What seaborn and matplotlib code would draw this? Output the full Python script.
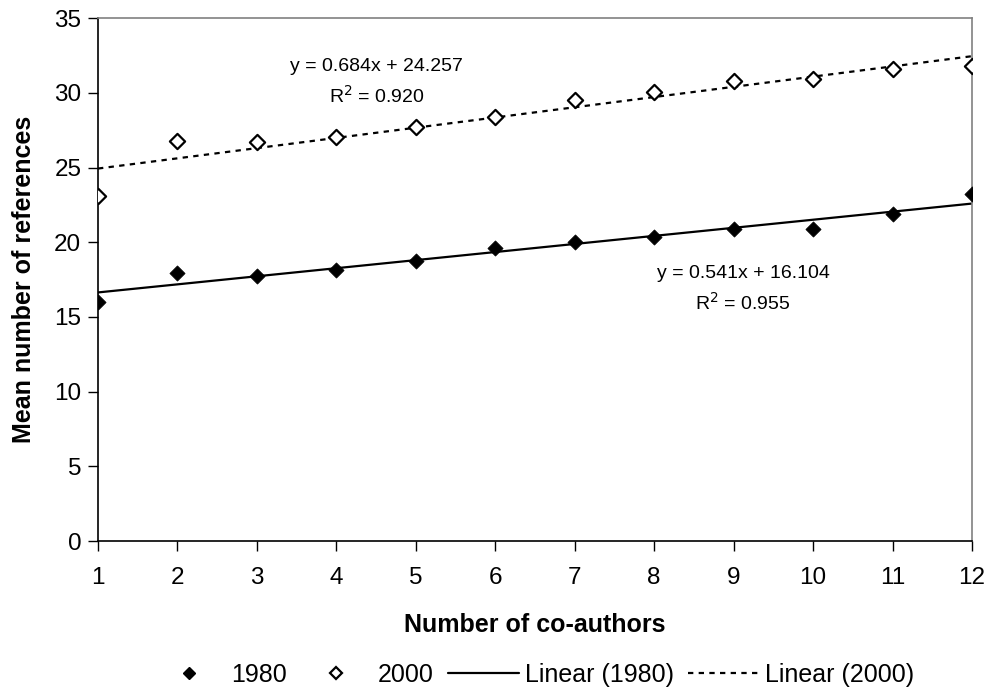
import numpy as np
import pandas as pd
import matplotlib
matplotlib.use("Agg")
import matplotlib.pyplot as plt
import seaborn as sns
from matplotlib.lines import Line2D

# =====================================================
# DATA
# =====================================================

co_authors = [1, 2, 3, 4, 5, 6, 7, 8, 9, 10, 11, 12]
refs_1980 = [16.0, 17.97, 17.77, 18.13, 18.75, 19.65, 20.05, 20.38, 20.87, 20.92, 21.88, 23.22]
refs_2000 = [23.1, 26.8, 26.7, 27.08, 27.7, 28.4, 29.5, 30.07, 30.83, 30.92, 31.6, 31.84]

# trend line coefficients printed on the chart
slope_1980, intercept_1980, r2_1980 = 0.541, 16.104, 0.955
slope_2000, intercept_2000, r2_2000 = 0.684, 24.257, 0.920

y_ticks = [0, 5, 10, 15, 20, 25, 30, 35]

df = pd.DataFrame({
    "co_authors": co_authors,
    "1980": refs_1980,
    "2000": refs_2000,
})
df["fit_1980"] = slope_1980 * df["co_authors"] + intercept_1980
df["fit_2000"] = slope_2000 * df["co_authors"] + intercept_2000

# =====================================================
# STYLE
# =====================================================

sns.set_style("white")
plt.rcParams["font.family"] = ["Liberation Sans", "DejaVu Sans"]
plt.rcParams["text.color"] = "black"
plt.rcParams["axes.labelcolor"] = "black"
plt.rcParams["xtick.color"] = "black"
plt.rcParams["ytick.color"] = "black"

fig = plt.figure(figsize=(9.87, 6.89), dpi=100)
ax = fig.add_axes([0.0993, 0.2148, 0.8855, 0.7586])

dots = (0, (2.4, 2.4))

# =====================================================
# TREND LINES
# =====================================================

sns.lineplot(data=df, x="co_authors", y="fit_1980", ax=ax,
             color="black", linewidth=1.6, zorder=2)
sns.lineplot(data=df, x="co_authors", y="fit_2000", ax=ax,
             color="black", linewidth=1.6, linestyle=dots, zorder=2)

# =====================================================
# POINTS
# =====================================================

sns.scatterplot(data=df, x="co_authors", y="1980", ax=ax,
                marker="D", s=60, color="black", edgecolor="black",
                linewidth=0.5, zorder=3)
sns.scatterplot(data=df, x="co_authors", y="2000", ax=ax,
                marker="D", s=60, facecolor="white", edgecolor="black",
                linewidth=1.6, zorder=3)

# =====================================================
# ANNOTATIONS
# =====================================================

ax.text(4.51, 31.8, f"y = {slope_2000:.3f}x + {intercept_2000:.3f}",
        ha="center", va="center", fontsize=14)
ax.text(4.51, 29.8, f"R$^2$ = {r2_2000:.3f}",
        ha="center", va="center", fontsize=14)
ax.text(9.12, 17.9, f"y = {slope_1980:.3f}x + {intercept_1980:.3f}",
        ha="center", va="center", fontsize=14)
ax.text(9.12, 15.95, f"R$^2$ = {r2_1980:.3f}",
        ha="center", va="center", fontsize=14)

# =====================================================
# AXES
# =====================================================

ax.set_xlim(1, 12)
ax.set_ylim(0, 35)
ax.set_xticks(co_authors)
ax.set_yticks(y_ticks)
ax.tick_params(axis="both", direction="out", length=7, width=1,
               color="black", labelsize=17.5, pad=5, left=True, bottom=True)
ax.tick_params(axis="x", pad=12)

for side in ["left", "bottom"]:
    ax.spines[side].set_color("black")
    ax.spines[side].set_linewidth(1.2)
for side in ["top", "right"]:
    ax.spines[side].set_color("#808080")
    ax.spines[side].set_linewidth(1.2)

ax.set_xlabel("Number of co-authors", fontsize=18, fontweight="bold", labelpad=17)
ax.set_ylabel("Mean number of references", fontsize=18, fontweight="bold", labelpad=13)

# =====================================================
# LEGEND
# =====================================================

handles = [
    Line2D([], [], marker="D", markersize=6, color="black", linestyle="none"),
    Line2D([], [], marker="D", markersize=6, markerfacecolor="white",
           markeredgecolor="black", markeredgewidth=1.6, linestyle="none"),
    Line2D([], [], color="black", linewidth=1.6),
    Line2D([], [], color="black", linewidth=1.6, linestyle=dots),
]
labels = ["1980", "2000", "Linear (1980)", "Linear (2000)"]

fig.legend(handles, labels, loc="center", bbox_to_anchor=(0.541, 0.02),
           ncol=4, frameon=False, fontsize=18, handlelength=2.84,
           columnspacing=0.56, handletextpad=0.25)

fig.savefig("out.png", dpi=100)
